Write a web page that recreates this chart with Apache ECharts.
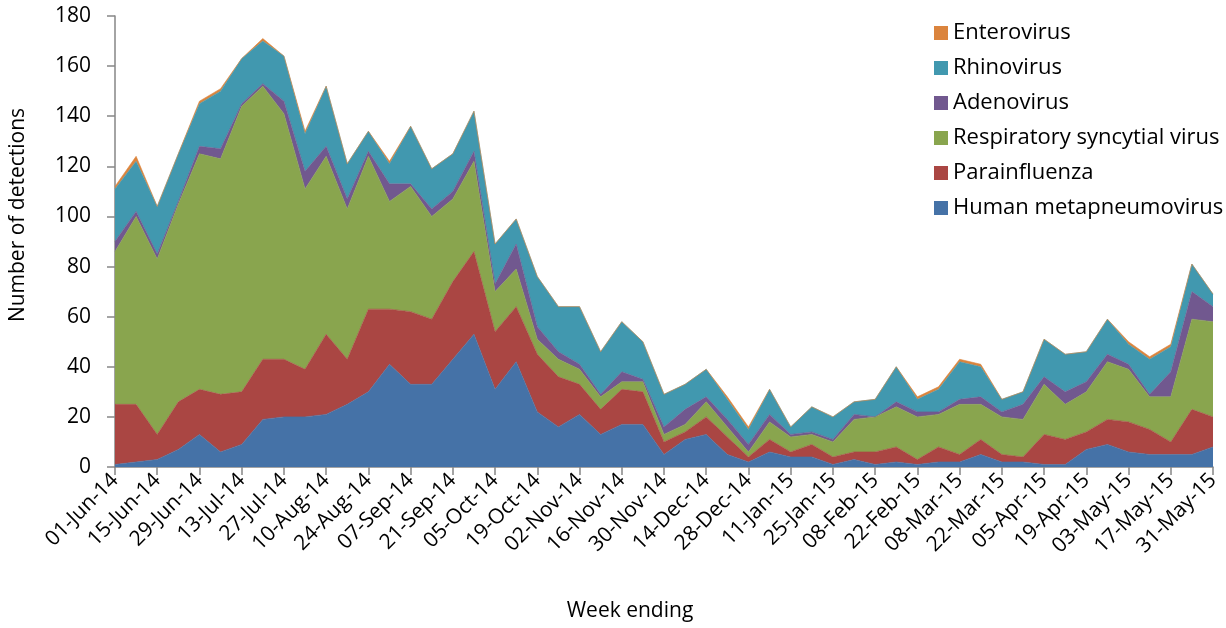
<!DOCTYPE html>
<html>
<head>
<meta charset="utf-8">
<script src="https://cdn.jsdelivr.net/npm/echarts@6/dist/echarts.min.js"></script>
<style>
  html, body { margin: 0; padding: 0; background: #fff; }
  #chart { width: 1226px; height: 628px; }
</style>
</head>
<body>
<div id="chart"></div>
<script>
// Week-ending dates (weekly, June 2014 – May 2015)
const weeks = [
  '01-Jun-14','08-Jun-14','15-Jun-14','22-Jun-14','29-Jun-14','06-Jul-14','13-Jul-14','20-Jul-14',
  '27-Jul-14','03-Aug-14','10-Aug-14','17-Aug-14','24-Aug-14','31-Aug-14','07-Sep-14','14-Sep-14',
  '21-Sep-14','28-Sep-14','05-Oct-14','12-Oct-14','19-Oct-14','26-Oct-14','02-Nov-14','09-Nov-14',
  '16-Nov-14','23-Nov-14','30-Nov-14','07-Dec-14','14-Dec-14','21-Dec-14','28-Dec-14','04-Jan-15',
  '11-Jan-15','18-Jan-15','25-Jan-15','01-Feb-15','08-Feb-15','15-Feb-15','22-Feb-15','01-Mar-15',
  '08-Mar-15','15-Mar-15','22-Mar-15','29-Mar-15','05-Apr-15','12-Apr-15','19-Apr-15','26-Apr-15',
  '03-May-15','10-May-15','17-May-15','24-May-15','31-May-15'
];

// Weekly detections per virus (stacked bottom to top)
const humanMetapneumovirus = [1,2,3,7,13,6,9,19,20,20,21,25,30,41,33,33,43,53,31,42,22,16,21,13,17,17,5,11,13,5,2,6,4,4,1,3,1,2,1,2,2,5,2,2,1,1,7,9,6,5,5,5,8];
const parainfluenza = [24,23,10,19,18,23,21,24,23,19,32,18,33,22,29,26,31,33,23,22,23,20,12,10,14,13,5,3,7,7,2,5,2,5,3,3,5,6,2,6,3,6,3,2,12,10,7,10,12,10,5,18,12];
const respiratorySyncytialVirus = [61,75,70,79,94,94,114,109,98,72,71,60,61,43,50,41,33,36,16,15,6,7,6,5,3,4,3,3,6,4,2,7,6,4,6,13,14,16,17,13,20,14,15,15,20,14,16,23,21,13,18,36,38];
const adenovirus = [4,2,2,1,3,4,1,1,5,7,4,4,2,7,1,3,3,4,3,10,5,3,2,1,4,1,3,6,2,3,3,3,1,1,1,2,0,2,2,1,2,3,2,6,3,5,4,3,2,1,10,11,6];
const rhinovirus = [21,20,19,19,17,23,18,17,18,15,24,14,8,8,23,16,15,16,16,10,20,18,23,17,20,15,13,10,11,8,6,10,3,10,9,5,7,14,5,9,15,12,5,5,15,15,12,14,8,14,10,11,5];
const enterovirus = [1,2,0,0,1,1,0,1,0,1,0,0,0,1,0,0,0,0,0,0,0,0,0,0,0,0,0,0,0,1,1,0,0,0,0,0,0,0,1,1,1,1,0,0,0,0,0,0,1,1,1,0,0];

const yTicks = { min: 0, max: 180, step: 20 };

const seriesDefs = [
  { name: 'Human metapneumovirus', data: humanMetapneumovirus, color: '#4572A7' },
  { name: 'Parainfluenza', data: parainfluenza, color: '#AA4643' },
  { name: 'Respiratory syncytial virus', data: respiratorySyncytialVirus, color: '#89A54E' },
  { name: 'Adenovirus', data: adenovirus, color: '#71588F' },
  { name: 'Rhinovirus', data: rhinovirus, color: '#4198AF' },
  { name: 'Enterovirus', data: enterovirus, color: '#DB843D' }
];

const FONT = '"Open Sans", "Noto Sans", sans-serif';
const axisGrey = '#868686';

const chart = echarts.init(document.getElementById('chart'), null, { renderer: 'canvas' });

chart.setOption({
  animation: false,
  backgroundColor: '#ffffff',
  textStyle: { fontFamily: FONT, color: '#000' },
  grid: { left: 115, right: 13, top: 16, bottom: 161, containLabel: false },
  legend: {
    orient: 'vertical',
    left: 929,
    top: 17,
    icon: 'rect',
    itemWidth: 14,
    itemHeight: 14,
    itemGap: 13,
    selectedMode: false,
    data: seriesDefs.map(s => s.name).reverse(),
    textStyle: { fontFamily: FONT, fontSize: 22, lineHeight: 22, color: '#000' }
  },
  xAxis: {
    type: 'category',
    data: weeks,
    boundaryGap: false,
    axisLine: { lineStyle: { color: axisGrey, width: 1.5 } },
    axisTick: { show: true, interval: 1, length: 8, lineStyle: { color: axisGrey, width: 1.5 } },
    axisLabel: { interval: 1, rotate: 45, margin: 10, fontSize: 21, fontFamily: FONT, color: '#000' },
    splitLine: { show: false }
  },
  yAxis: {
    type: 'value',
    min: yTicks.min,
    max: yTicks.max,
    interval: yTicks.step,
    axisLine: { show: true, lineStyle: { color: axisGrey, width: 1.5 } },
    axisTick: { show: true, length: 8, lineStyle: { color: axisGrey, width: 1.5 } },
    axisLabel: { margin: 24, fontSize: 21, fontFamily: FONT, color: '#000' },
    splitLine: { show: false }
  },
  graphic: [
    {
      type: 'text',
      x: 18, y: 215,
      rotation: Math.PI / 2,
      style: {
        text: 'Number of detections',
        font: '21px ' + FONT,
        fill: '#000',
        textAlign: 'center',
        textVerticalAlign: 'middle'
      }
    },
    {
      type: 'text',
      x: 630, y: 611,
      style: {
        text: 'Week ending',
        font: '21px ' + FONT,
        fill: '#000',
        textAlign: 'center',
        textVerticalAlign: 'middle'
      }
    }
  ],
  series: seriesDefs.map(s => ({
    name: s.name,
    type: 'line',
    stack: 'detections',
    data: s.data,
    symbol: 'none',
    showSymbol: false,
    color: s.color,
    lineStyle: { width: 0.6, color: s.color },
    areaStyle: { color: s.color, opacity: 1 },
    emphasis: { disabled: true }
  }))
});
</script>
</body>
</html>
